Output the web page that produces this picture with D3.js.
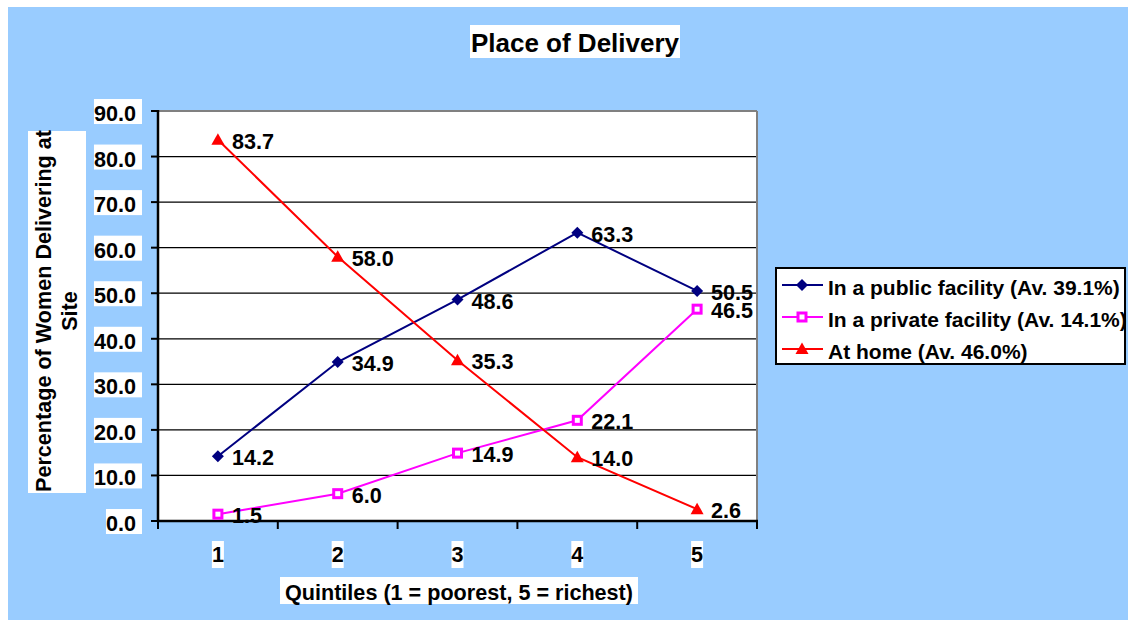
<!DOCTYPE html>
<html><head><meta charset="utf-8">
<script src="https://cdn.jsdelivr.net/npm/d3@7"></script>
<style>
html,body{margin:0;padding:0;background:#fff;}
svg{display:block;}
text{font-family:"Liberation Sans",Arial,sans-serif;font-weight:bold;fill:#000;}
</style></head>
<body><svg id="c" width="1128" height="620"></svg>
<script>
const categories = ["1","2","3","4","5"];
const publicFacility = [14.2, 34.9, 48.6, 63.3, 50.5];
const privateFacility = [1.5, 6.0, 14.9, 22.1, 46.5];
const atHome = [83.7, 58.0, 35.3, 14.0, 2.6];
const seriesNames = ["In a public facility (Av. 39.1%)", "In a private facility (Av. 14.1%)", "At home (Av. 46.0%)"];
const yTicks = [0,10,20,30,40,50,60,70,80,90];
const title = "Place of Delivery";
const xTitle = "Quintiles (1 = poorest, 5 = richest)";
const yTitleLines = ["Percentage of Women Delivering at", "Site"];

const FS = 21.6;
const svg = d3.select("#c");
svg.append("rect").attr("x",8).attr("y",7).attr("width",1120).attr("height",613).attr("fill","#99CCFF");

const L=158, R=757, T=111, B=521;
const x = d3.scaleBand().domain(categories).range([L,R]);
const xc = c => x(c) + x.bandwidth()/2;
const y = d3.scaleLinear().domain([0,90]).range([B,T]);

// plot area
svg.append("rect").attr("x",L).attr("y",T).attr("width",R-L).attr("height",B-T).attr("fill","#fff");
// gridlines
svg.append("g").selectAll("line").data(yTicks.filter(t=>t>0&&t<90)).join("line")
  .attr("x1",L).attr("x2",R).attr("y1",d=>y(d)).attr("y2",d=>y(d))
  .attr("stroke","#000").attr("stroke-width",1.2);
// top and right border
svg.append("line").attr("x1",L).attr("x2",R).attr("y1",y(90)).attr("y2",y(90)).attr("stroke","#808080").attr("stroke-width",2);
svg.append("line").attr("x1",R).attr("x2",R).attr("y1",T).attr("y2",B).attr("stroke","#808080").attr("stroke-width",2);

// y axis
const yAxis = svg.append("g");
yAxis.append("line").attr("x1",L).attr("x2",L).attr("y1",T-1).attr("y2",B+1).attr("stroke","#000").attr("stroke-width",2.5);
yAxis.selectAll("line.t").data(yTicks).join("line").attr("class","t")
  .attr("x1",L-7).attr("x2",L).attr("y1",d=>y(d)).attr("y2",d=>y(d)).attr("stroke","#000").attr("stroke-width",2);
const yl = yAxis.selectAll("g.l").data(yTicks).join("g").attr("class","l");
yl.each(function(d){
  const g=d3.select(this);
  const t=g.append("text").attr("x",136).attr("y",y(d)+10).attr("text-anchor","end").attr("font-size",FS).text(d.toFixed(1));
  const bb=t.node().getBBox();
  g.insert("rect","text").attr("x",bb.x).attr("y",y(d)-12).attr("width",bb.width+6).attr("height",25).attr("fill","#fff");
});

// x axis
const xAxis = svg.append("g");
xAxis.append("line").attr("x1",L-1).attr("x2",R+1).attr("y1",B).attr("y2",B).attr("stroke","#000").attr("stroke-width",2.5);
const bounds = categories.map(c=>x(c)).concat([x.range()[1]]);
xAxis.selectAll("line.t").data(bounds).join("line").attr("class","t")
  .attr("x1",d=>d).attr("x2",d=>d).attr("y1",B).attr("y2",B+8).attr("stroke","#000").attr("stroke-width",2);
xAxis.selectAll("g.l").data(categories).join("g").attr("class","l").each(function(c){
  const g=d3.select(this);
  const t=g.append("text").attr("x",xc(c)).attr("y",562).attr("text-anchor","middle").attr("font-size",FS).text(c);
  const bb=t.node().getBBox();
  g.insert("rect","text").attr("x",bb.x).attr("y",541).attr("width",bb.width).attr("height",27).attr("fill","#fff");
});

// titles
function boxedText(tx,ty,str,size,box){
  const g=svg.append("g");
  g.append("rect").attr("x",box[0]).attr("y",box[1]).attr("width",box[2]).attr("height",box[3]).attr("fill","#fff");
  g.append("text").attr("x",tx).attr("y",ty).attr("text-anchor","middle").attr("font-size",size).text(str);
}
boxedText(575,52,title,26,[470,25,210,33]);
boxedText(459,600,xTitle,FS,[280,577,358,27]);
// y title
const yt = svg.append("g");
yt.append("rect").attr("x",28).attr("y",131).attr("width",58).attr("height",362).attr("fill","#fff");
const ytt = yt.append("text").attr("transform","translate(51,311) rotate(-90)").attr("text-anchor","middle").attr("font-size",FS);
yTitleLines.forEach((s,i)=>ytt.append("tspan").attr("x",0).attr("dy",i?26:0).text(s));

// series
const series = [
  {name:seriesNames[0], values:publicFacility, color:"#000080", shape:"diamond"},
  {name:seriesNames[1], values:privateFacility, color:"#FF00FF", shape:"square"},
  {name:seriesNames[2], values:atHome, color:"#FF0000", shape:"triangle"}
];
function drawMarker(g, shape, color, cx, cy){
  if(shape==="diamond"){
    g.append("path").attr("d",`M${cx},${cy-6}L${cx+6},${cy}L${cx},${cy+6}L${cx-6},${cy}Z`).attr("fill",color);
  } else if(shape==="square"){
    g.append("rect").attr("x",cx-4).attr("y",cy-4).attr("width",8).attr("height",8).attr("fill","#fff").attr("stroke",color).attr("stroke-width",3);
  } else {
    g.append("path").attr("d",`M${cx},${cy-6.5}L${cx+6.5},${cy+5}L${cx-6.5},${cy+5}Z`).attr("fill",color);
  }
}
const line = d3.line().x((d,i)=>xc(categories[i])).y(d=>y(d));
series.forEach(s=>{
  const g=svg.append("g");
  g.append("path").attr("d",line(s.values)).attr("fill","none").attr("stroke",s.color).attr("stroke-width",2);
  s.values.forEach((v,i)=>drawMarker(g,s.shape,s.color,xc(categories[i]),y(v)));
});
series.forEach(s=>{
  svg.append("g").selectAll("text").data(s.values).join("text")
    .attr("x",(d,i)=>xc(categories[i])+14).attr("y",d=>y(d)+9).attr("font-size",FS).text(d=>d.toFixed(1));
});

// legend
const lg = svg.append("g");
lg.append("rect").attr("x",776).attr("y",268).attr("width",349).attr("height",96).attr("fill","#fff").attr("stroke","#000").attr("stroke-width",2);
series.forEach((s,i)=>{
  const ly = 285 + i*32;
  lg.append("line").attr("x1",782).attr("x2",823).attr("y1",ly).attr("y2",ly).attr("stroke",s.color).attr("stroke-width",2);
  drawMarker(lg,s.shape,s.color,802,ly);
  lg.append("text").attr("x",828).attr("y",ly+10).attr("font-size",21).text(s.name);
});
</script></body></html>
